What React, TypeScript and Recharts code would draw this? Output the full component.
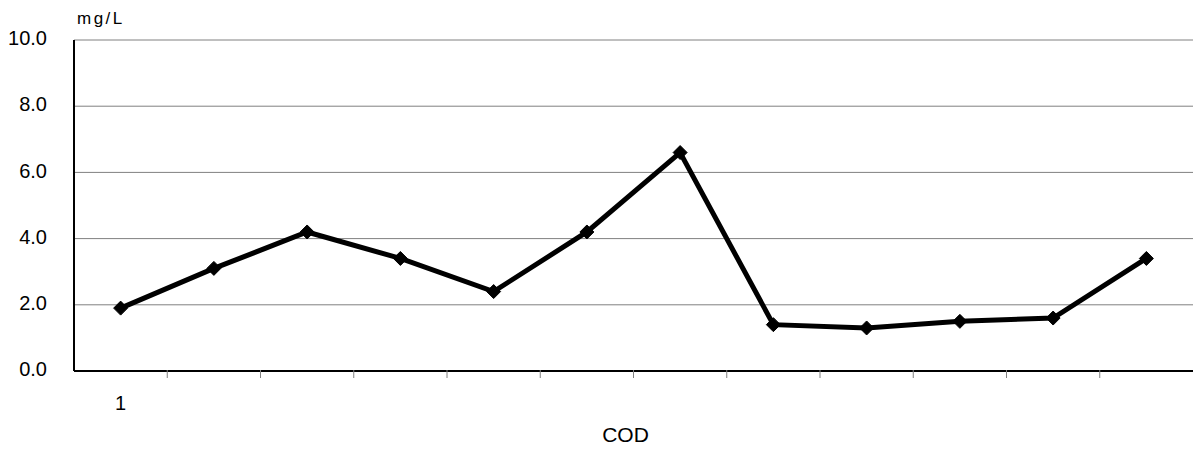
import React from 'react';
import { LineChart, Line, XAxis, YAxis, CartesianGrid } from 'recharts';

const categories = [1, 2, 3, 4, 5, 6, 7, 8, 9, 10, 11, 12];
const codValues = [1.9, 3.1, 4.2, 3.4, 2.4, 4.2, 6.6, 1.4, 1.3, 1.5, 1.6, 3.4];
const yTicks = [0, 2, 4, 6, 8, 10];
const xTickLabels = ['1'];

const data = categories.map((c, i) => ({ pos: i + 0.5, cat: c, value: codValues[i] }));
const xTicks = [0.5, ...categories.slice(1).map((c) => c - 1)];

const FONT = '"Liberation Sans", Arial, sans-serif';

const Diamond = (props: any) => {
  const { cx, cy } = props;
  if (cx == null || cy == null) return null;
  const r = 7;
  return (
    <polygon
      points={`${cx},${cy - r} ${cx + r},${cy} ${cx},${cy + r} ${cx - r},${cy}`}
      fill="#000"
      stroke="#000"
      strokeWidth={1}
    />
  );
};

const XTick = (props: any) => {
  const { x, y, payload } = props;
  if (payload.value === 0.5) {
    return (
      <text x={x} y={y + 26} textAnchor="middle" dominantBaseline="middle" fontSize={20} fill="#000" fontFamily={FONT}>
        {xTickLabels[0]}
      </text>
    );
  }
  return <line x1={x} x2={x} y1={y - 1} y2={y - 9} stroke="#808080" strokeWidth={1} />;
};

const YTick = (props: any) => {
  const { y, payload } = props;
  return (
    <text x={47} y={y} textAnchor="end" dominantBaseline="middle" fontSize={20} fill="#000" fontFamily={FONT}>
      {Number(payload.value).toFixed(1)}
    </text>
  );
};

export default function App() {
  return (
    <div style={{ position: 'absolute', left: 0, top: 0, width: 1193, height: 462, background: '#fff', fontFamily: FONT }}>
      <div style={{ position: 'absolute', left: 77, top: 9, fontSize: 17, lineHeight: '20px', letterSpacing: '2.5px', color: '#000' }}>mg/L</div>
      <LineChart width={1193} height={462} data={data} margin={{ top: 40, right: 0, left: 0, bottom: 61 }}>
        <CartesianGrid horizontal={true} vertical={false} stroke="#808080" strokeWidth={1} />
        <XAxis
          dataKey="pos"
          type="number"
          domain={[0, 12]}
          ticks={xTicks}
          interval={0}
          tick={<XTick />}
          tickLine={false}
          axisLine={{ stroke: '#000', strokeWidth: 2 }}
          height={30}
          label={{ value: 'COD', position: 'bottom', offset: 26, dx: -8, fontSize: 21, fill: '#000', fontFamily: FONT }}
        />
        <YAxis
          domain={[0, 10]}
          ticks={yTicks}
          interval={0}
          width={74}
          tick={<YTick />}
          tickLine={false}
          axisLine={{ stroke: '#000', strokeWidth: 2 }}
        />
        <Line
          dataKey="value"
          stroke="#000"
          strokeWidth={5}
          dot={<Diamond />}
          activeDot={false}
          isAnimationActive={false}
        />
      </LineChart>
    </div>
  );
}
